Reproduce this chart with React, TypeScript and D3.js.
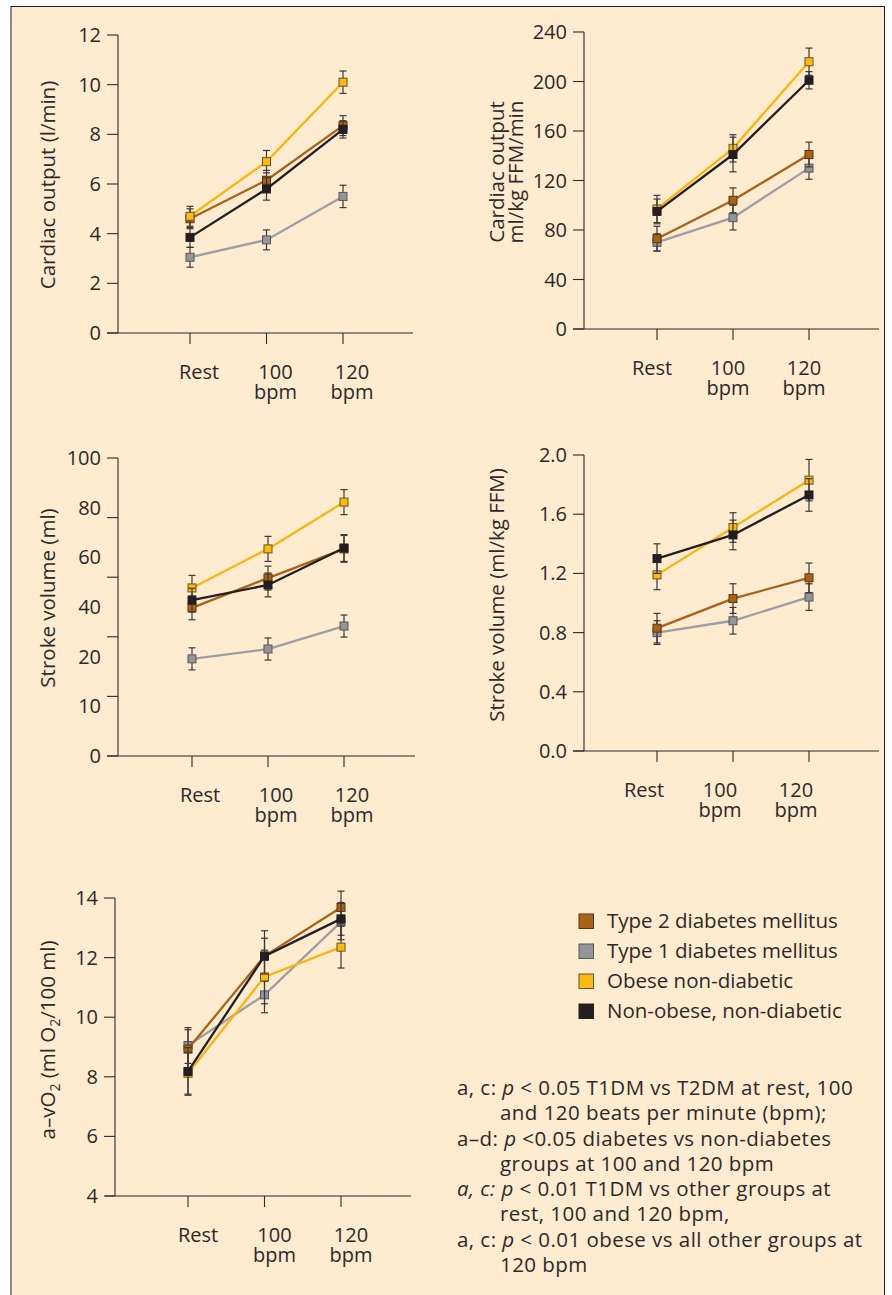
import React from "react";
import * as d3 from "d3";

// x categories (two-line labels)
const categories = ["Rest", "100 bpm", "120 bpm"];
const groups = ["Type 2 diabetes mellitus", "Type 1 diabetes mellitus", "Obese non-diabetic", "Non-obese, non-diabetic"];

// cardiac output (l/min)
const coT2 = [4.6, 6.15, 8.35];
const coT1 = [3.05, 3.75, 5.5];
const coOb = [4.7, 6.9, 10.1];
const coNo = [3.85, 5.8, 8.2];
const coT2Err = [0.4, 0.4, 0.4];
const coT1Err = [0.4, 0.4, 0.45];
const coObErr = [0.4, 0.45, 0.45];
const coNoErr = [0.4, 0.45, 0.35];
const coTicks = [0, 2, 4, 6, 8, 10, 12];

// cardiac output ml/kg FFM/min
const cfT2 = [73, 104, 141];
const cfT1 = [70, 90, 130];
const cfOb = [97, 146, 216];
const cfNo = [95, 141, 201];
const cfT2Err = [10, 10, 10];
const cfT1Err = [7, 10, 9];
const cfObErr = [11, 11, 11];
const cfNoErr = [10, 14, 7];
const cfTicks = [0, 40, 80, 120, 160, 200, 240];

// stroke volume (ml)
const svT2 = [49.7, 59.7, 69.5];
const svT1 = [32.6, 35.9, 43.6];
const svOb = [56.4, 69.5, 85.2];
const svNo = [52.3, 57.4, 69.8];
const svT2Err = [4, 4, 4.5];
const svT1Err = [3.7, 3.7, 3.7];
const svObErr = [4.2, 4.2, 4.2];
const svNoErr = [4, 4, 4.5];
const svTicks = [0, 20, 40, 60, 80, 100];
const svTickLabels = [100, 80, 60, 40, 20, 10, 0]; // printed labels don't sit on the tick marks

// stroke volume ml/kg FFM
const sfT2 = [0.83, 1.03, 1.17];
const sfT1 = [0.8, 0.88, 1.04];
const sfOb = [1.19, 1.51, 1.83];
const sfNo = [1.3, 1.46, 1.73];
const sfT2Err = [0.1, 0.1, 0.1];
const sfT1Err = [0.08, 0.09, 0.09];
const sfObErr = [0.1, 0.1, 0.14];
const sfNoErr = [0.1, 0.1, 0.11];
const sfTicks = [0, 0.4, 0.8, 1.2, 1.6, 2.0];

// a-vO2 difference
const avT2 = [8.93, 12.05, 13.68];
const avT1 = [9.05, 10.75, 13.2];
const avOb = [8.12, 11.35, 12.35];
const avNo = [8.18, 12.05, 13.3];
const avT2Err = [0.65, 0.85, 0.55];
const avT1Err = [0.6, 0.6, 0.6];
const avObErr = [0.7, 0.9, 0.7];
const avNoErr = [0.8, 0.6, 0.55];
const avTicks = [4, 6, 8, 10, 12, 14];

const colors = ["#a8621a", "#939598", "#fdb913", "#231f20"];
const lineColors = ["#a8621a", "#9c9ea2", "#f8b510", "#231f20"];
const strokes = ["#5b3510", "#55575a", "#6b5420", "#231f20"];
const drawOrder = [1, 0, 2, 3];

const FONT = "'Open Sans', 'Noto Sans', sans-serif";
const INK = "#2b2a29";
const FS = 20;

type PanelProps = {
  values: number[][];
  errors: number[][];
  ticks: number[];
  tickLabels?: number[];
  fmt?: (d: number) => string;
  axisX: number;
  y0: number;
  yTop: number;
  xStart: number;
  xEnd: number;
  xRange: [number, number];
  labelDx: number;
  ylabel: React.ReactNode;
};

function Panel(p: PanelProps) {
  const domain = d3.extent(p.ticks) as [number, number];
  const y = d3.scaleLinear().domain(domain).range([p.y0, p.yTop]);
  const x = d3.scalePoint<string>().domain(categories).range(p.xRange);
  const fmt = p.fmt || ((d: number) => String(d));
  // printed labels: either on ticks, or evenly spread over the axis
  const labelY = p.tickLabels
    ? d3.scalePoint<string>().domain(p.tickLabels.map(String)).range([p.yTop, p.y0])
    : null;
  const line = d3
    .line<number>()
    .x((_, i) => x(categories[i]) as number)
    .y((d) => y(d));
  return (
    <g>
      <line x1={p.axisX} x2={p.axisX} y1={p.yTop} y2={p.y0} stroke={INK} strokeWidth={1.1} />
      <line x1={p.xStart} x2={p.xEnd} y1={p.y0} y2={p.y0} stroke={INK} strokeWidth={1.1} />
      {p.ticks.map((t) => (
        <line key={t} x1={p.axisX - 11} x2={p.axisX} y1={y(t)} y2={y(t)} stroke={INK} strokeWidth={1.1} />
      ))}
      {labelY
        ? p.tickLabels!.map((t) => (
            <text key={t} x={p.axisX - 17} y={(labelY(String(t)) as number) + 7} textAnchor="end" fontSize={FS} fill={INK}>
              {fmt(t)}
            </text>
          ))
        : p.ticks.map((t) => (
            <text key={t} x={p.axisX - 17} y={y(t) + 7} textAnchor="end" fontSize={FS} fill={INK}>
              {fmt(t)}
            </text>
          ))}
      {categories.map((c) => {
        const cx = x(c) as number;
        const parts = c.split(" ");
        return (
          <g key={c}>
            <line x1={cx} x2={cx} y1={p.y0} y2={p.y0 + 11} stroke={INK} strokeWidth={1.1} />
            {parts.map((s, j) => (
              <text key={j} x={cx + p.labelDx} y={p.y0 + 46 + j * 20} textAnchor="middle" fontSize={FS} fill={INK}>
                {s}
              </text>
            ))}
          </g>
        );
      })}
      {p.ylabel}
      {drawOrder.map((g) => (
        <g key={g}>
          <path d={line(p.values[g]) || ""} fill="none" stroke={lineColors[g]} strokeWidth={2.3} />
          {p.values[g].map((v, i) => {
            const cx = x(categories[i]) as number;
            const e = p.errors[g][i];
            return (
              <g key={i} stroke="#3a3838" strokeWidth={1.2}>
                <line x1={cx} x2={cx} y1={y(v - e)} y2={y(v + e)} />
                <line x1={cx - 3.5} x2={cx + 3.5} y1={y(v - e)} y2={y(v - e)} />
                <line x1={cx - 3.5} x2={cx + 3.5} y1={y(v + e)} y2={y(v + e)} />
              </g>
            );
          })}
          {p.values[g].map((v, i) => {
            const cx = x(categories[i]) as number;
            return (
              <rect key={"m" + i} x={cx - 4} y={y(v) - 4} width={8} height={8} fill={colors[g]} stroke={strokes[g]} strokeWidth={1} />
            );
          })}
        </g>
      ))}
    </g>
  );
}

function RotLabel({ x, y, children }: { x: number; y: number; children: React.ReactNode }) {
  return (
    <text transform={`translate(${x},${y}) rotate(-90)`} textAnchor="middle" fontSize={20.5} fill={INK}>
      {children}
    </text>
  );
}

const notes: { lead: string; leadItalic?: boolean; rest: string; cont: string }[] = [
  { lead: "a, c: ", rest: " < 0.05 T1DM vs T2DM at rest, 100", cont: "and 120 beats per minute (bpm);" },
  { lead: "a\u2013d: ", rest: " <0.05 diabetes vs non-diabetes", cont: "groups at 100 and 120 bpm" },
  { lead: "a, c: ", leadItalic: true, rest: " < 0.01 T1DM vs other groups at", cont: "rest, 100 and 120 bpm," },
  { lead: "a, c: ", rest: " < 0.01 obese vs all other groups at", cont: "120 bpm" },
];

export default function App() {
  return (
    <div style={{ position: "absolute", left: 0, top: 0 }}>
      <svg width={892} height={1295} style={{ display: "block", fontFamily: FONT }}>
        <rect x={0} y={0} width={892} height={1295} fill="#ffffff" />
        <rect x={11} y={6} width={873} height={1300} fill="#feebd0" />
        <line x1={11} x2={11} y1={6} y2={1295} stroke="#8c8782" strokeWidth={2} />
        <line x1={11} x2={885} y1={6.5} y2={6.5} stroke="#231f20" strokeWidth={1} />
        <line x1={884.5} x2={884.5} y1={6} y2={1295} stroke="#231f20" strokeWidth={1} />

        <Panel
          values={[coT2, coT1, coOb, coNo]}
          errors={[coT2Err, coT1Err, coObErr, coNoErr]}
          ticks={coTicks}
          axisX={118}
          y0={333}
          yTop={35}
          xStart={107}
          xEnd={413}
          xRange={[190, 343]}
          labelDx={9}
          ylabel={<RotLabel x={55} y={185}>Cardiac output (l/min)</RotLabel>}
        />
        <Panel
          values={[cfT2, cfT1, cfOb, cfNo]}
          errors={[cfT2Err, cfT1Err, cfObErr, cfNoErr]}
          ticks={cfTicks}
          axisX={584}
          y0={329}
          yTop={32}
          xStart={573}
          xEnd={879}
          xRange={[657, 809]}
          labelDx={-5}
          ylabel={
            <g>
              <RotLabel x={504} y={172}>Cardiac output</RotLabel>
              <RotLabel x={523} y={172}>ml/kg FFM/min</RotLabel>
            </g>
          }
        />
        <Panel
          values={[svT2, svT1, svOb, svNo]}
          errors={[svT2Err, svT1Err, svObErr, svNoErr]}
          ticks={svTicks}
          tickLabels={svTickLabels}
          axisX={118}
          y0={756}
          yTop={458}
          xStart={107}
          xEnd={415}
          xRange={[192, 344]}
          labelDx={8}
          ylabel={<RotLabel x={55} y={598}>Stroke volume (ml)</RotLabel>}
        />
        <Panel
          values={[sfT2, sfT1, sfOb, sfNo]}
          errors={[sfT2Err, sfT1Err, sfObErr, sfNoErr]}
          ticks={sfTicks}
          fmt={d3.format(".1f")}
          axisX={584}
          y0={751}
          yTop={455}
          xStart={573}
          xEnd={879}
          xRange={[657, 809]}
          labelDx={-13}
          ylabel={<RotLabel x={504} y={595}>Stroke volume (ml/kg FFM)</RotLabel>}
        />
        <Panel
          values={[avT2, avT1, avOb, avNo]}
          errors={[avT2Err, avT1Err, avObErr, avNoErr]}
          ticks={avTicks}
          axisX={115}
          y0={1196}
          yTop={898}
          xStart={105}
          xEnd={411}
          xRange={[188, 341]}
          labelDx={10}
          ylabel={
            <RotLabel x={55} y={1040}>
              a{"\u2013"}vO<tspan fontSize={14} dy={5}>2</tspan>
              <tspan dy={-5}> (ml O</tspan>
              <tspan fontSize={14} dy={5}>2</tspan>
              <tspan dy={-5}>/100 ml)</tspan>
            </RotLabel>
          }
        />

        {groups.map((g, i) => (
          <g key={g}>
            <rect x={579} y={914 + i * 30} width={14.5} height={14.5} fill={colors[i]} stroke={strokes[i]} strokeWidth={1} />
            <text x={607} y={928 + i * 30} fontSize={20.5} fill={INK}>
              {g}
            </text>
          </g>
        ))}

        {notes.map((n, i) => (
          <g key={i} fontSize={20.5} fill={INK} letterSpacing={0.45}>
            <text x={457} y={1095 + i * 50.6}>
              <tspan fontStyle={n.leadItalic ? "italic" : "normal"}>{n.lead}</tspan>
              <tspan fontStyle="italic">p</tspan>
              <tspan>{n.rest}</tspan>
            </text>
            <text x={500} y={1120 + i * 50.6}>
              {n.cont}
            </text>
          </g>
        ))}
      </svg>
    </div>
  );
}
